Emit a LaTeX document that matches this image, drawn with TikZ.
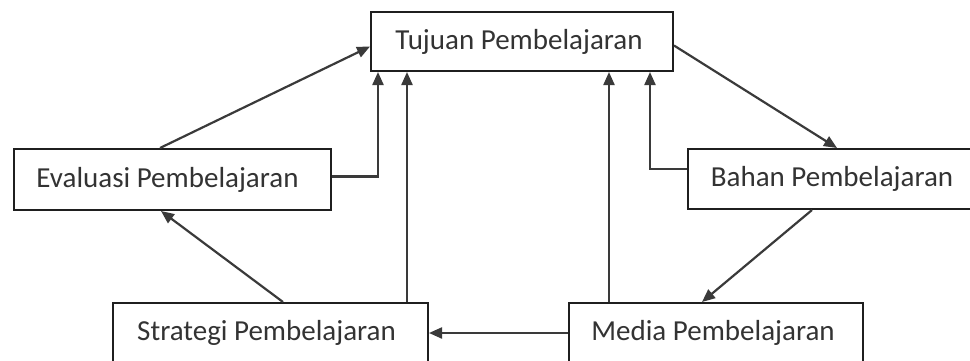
\documentclass[tikz,border=0pt]{standalone}
\usepackage{fontspec}
\setmainfont{Carlito}
\usetikzlibrary{arrows.meta,calc}
\definecolor{linegray}{HTML}{3A3A3A}
\definecolor{textgray}{HTML}{333333}
\tikzset{
  box/.style={draw=black!88, line width=2pt, anchor=north west,
    minimum height=60pt, inner sep=0pt, text=textgray,
    font=\fontsize{29}{31}\selectfont},
  arr/.style={draw=linegray, line width=2.2pt,
    -{Triangle[length=13pt,width=11pt]}}
}
\begin{document}
\begin{tikzpicture}[x=1pt,y=-1pt]
  \useasboundingbox (0,0) rectangle (970,360);
  % the five boxes
  \node[box, minimum width=302pt, minimum height=59pt] (tuj)   at (370,11)  {Tujuan Pembelajaran\hspace*{6pt}};
  \node[box, minimum width=317pt, minimum height=61pt] (eval)  at (13,148)  {Evaluasi Pembelajaran\hspace*{10pt}};
  \node[box, minimum width=288pt] (bahan) at (687,148) {Bahan Pembelajaran};
  \node[box, minimum width=315pt] (strat) at (112,302) {Strategi Pembelajaran\hspace*{8pt}};
  \node[box, minimum width=294pt] (media) at (568,302) {Media Pembelajaran\hspace*{6pt}};
  % connectors
  \draw[arr] ($(eval.north west)+(147,0)$) -- ($(tuj.west)+(0,5)$);
  \draw[arr] ($(eval.east)+(0,-3)$) -| ($(tuj.south west)+(8,0)$);
  \draw[arr] ($(strat.north west)+(295,0)$) -- ($(tuj.south west)+(37,0)$);
  \draw[arr] ($(strat.north west)+(171,0)$) -- ($(eval.south west)+(148,0)$);
  \draw[arr] ($(media.north west)+(41,0)$) -- ($(tuj.south west)+(239,0)$);
  \draw[arr] ($(bahan.west)+(0,-10)$) -| ($(tuj.south west)+(280,0)$);
  \draw[arr] ($(tuj.east)+(0,4)$) -- ($(bahan.north west)+(150,0)$);
  \draw[arr] ($(bahan.south west)+(125,0)$) -- ($(media.north west)+(134,0)$);
  \draw[arr] (media.west) -- (strat.east);
\end{tikzpicture}
\end{document}
